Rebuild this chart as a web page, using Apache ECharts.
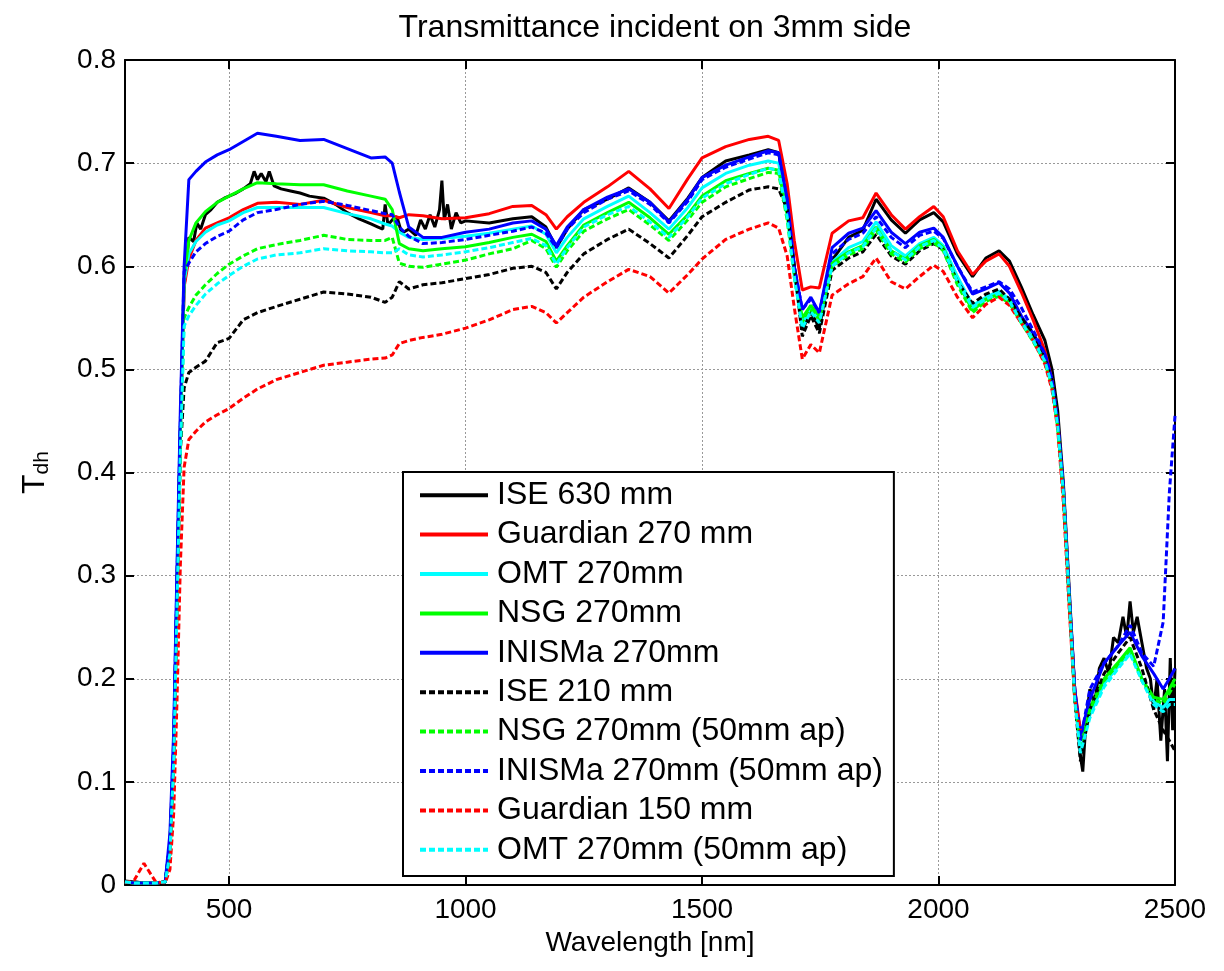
<!DOCTYPE html>
<html>
<head>
<meta charset="utf-8">
<title>Transmittance incident on 3mm side</title>
<script src="https://cdn.jsdelivr.net/npm/echarts@6/dist/echarts.min.js"></script>
<style>
  html, body { margin: 0; padding: 0; background: #fff; }
  #chart { width: 1224px; height: 971px; }
</style>
</head>
<body>
<div id="chart"></div>
<script>
// wavelength grid [nm], shared by the smoother curves
const wl = [280,300,320,345,365,375,383,390,397,405,
  415,430,450,475,500,530,560,600,650,700,
  750,800,830,845,860,880,910,950,1000,1050,
  1100,1140,1170,1192,1215,1250,1300,1345,1390,1430,
  1470,1500,1550,1600,1640,1662,1680,1695,1712,1730,
  1748,1775,1810,1840,1868,1900,1930,1960,1990,2010,
  2040,2072,2100,2128,2150,2175,2200,2225,2240,2252,
  2264,2276,2288,2300,2320,2350,2380,2405,2430,2455,
  2475,2488,2500]

// ISE 630 mm is noisy, so it has its own denser grid
const wlIse630 = [280,300,320,345,365,375,383,390,397,405,
  415,425,432,440,450,462,475,490,500,515,
  530,545,553,560,568,578,585,595,610,630,
  650,670,700,725,750,775,800,815,825,830,
  836,845,855,865,880,895,905,915,925,935,
  945,950,955,962,970,980,990,1000,1050,1100,
  1140,1170,1192,1215,1250,1300,1345,1390,1430,1470,
  1500,1550,1600,1640,1662,1680,1695,1712,1730,1748,
  1775,1810,1840,1868,1900,1930,1960,1990,2010,2040,
  2072,2100,2128,2150,2175,2200,2225,2240,2252,2264,
  2276,2288,2300,2305,2312,2320,2330,2340,2350,2360,
  2370,2380,2390,2398,2405,2412,2420,2430,2440,2448,
  2455,2462,2470,2478,2484,2490,2495,2500]

const ise630 = [.004,.003,.002,.002,.003,.04,.13,.29,.44,.58,
  .628,.624,.642,.636,.65,.655,.662,.666,.668,.671,
  .675,.68,.692,.684,.69,.682,.692,.678,.675,.673,
  .671,.668,.666,.66,.652,.646,.641,.638,.636,.66,
  .64,.645,.648,.632,.636,.63,.645,.636,.65,.638,
  .655,.683,.645,.66,.636,.652,.642,.644,.642,.646,
  .648,.638,.618,.636,.655,.665,.676,.662,.644,.666,
  .686,.702,.708,.713,.71,.66,.6,.538,.556,.54,
  .606,.628,.635,.665,.645,.632,.645,.652,.643,.612,
  .59,.608,.615,.605,.58,.553,.528,.5,.46,.39,
  .29,.19,.125,.11,.16,.19,.175,.21,.22,.205,
  .24,.235,.26,.24,.275,.245,.26,.235,.21,.2,
  .17,.2,.14,.19,.12,.22,.15,.21]

const guardian270 = [.003,.002,.002,.002,.003,.04,.13,.29,.44,.58,
  .607,.625,.637,.642,.647,.655,.661,.662,.66,.664,
  .657,.652,.649,.649,.647,.65,.649,.646,.647,.651,
  .658,.659,.65,.636,.648,.662,.677,.692,.675,.656,
  .685,.705,.716,.723,.726,.722,.68,.625,.577,.58,
  .579,.632,.644,.647,.671,.65,.636,.648,.658,.648,
  .615,.592,.605,.612,.6,.575,.548,.518,.49,.45,
  .38,.28,.19,.15,null,null,null,null,null,null,
  null,null,null]

const omt270 = [.003,.002,.002,.002,.003,.04,.13,.29,.44,.585,
  .612,.624,.633,.64,.644,.652,.657,.657,.657,.657,
  .651,.646,.641,.639,.633,.628,.626,.627,.629,.632,
  .636,.639,.631,.613,.628,.646,.658,.668,.652,.636,
  .657,.676,.69,.698,.702,.7,.655,.59,.545,.56,
  .548,.604,.618,.624,.643,.62,.61,.622,.628,.62,
  .59,.562,.57,.576,.568,.548,.53,.51,.485,.445,
  .38,.28,.18,.13,.165,.195,.212,.226,.2,.178,
  .172,.18,.18]

const nsg270 = [.003,.002,.002,.002,.003,.04,.13,.29,.44,.59,
  .625,.642,.653,.662,.668,.675,.681,.68,.679,.679,
  .673,.668,.665,.655,.622,.617,.615,.617,.619,.623,
  .628,.631,.624,.605,.62,.64,.652,.662,.647,.631,
  .65,.668,.683,.69,.695,.693,.65,.595,.55,.562,
  .552,.603,.614,.62,.638,.615,.607,.62,.626,.618,
  .585,.557,.568,.573,.566,.547,.528,.508,.484,.445,
  .38,.28,.185,.14,.172,.2,.216,.23,.2,.182,
  .18,.19,.2]

const inisma270 = [.003,.002,.002,.002,.003,.05,.15,.31,.46,.6,
  .684,.692,.701,.708,.713,.721,.729,.726,.722,.723,
  .714,.705,.706,.7,.672,.638,.628,.628,.633,.636,
  .642,.644,.636,.62,.638,.655,.667,.675,.662,.643,
  .665,.686,.698,.706,.712,.71,.665,.6,.558,.57,
  .555,.618,.632,.637,.654,.633,.622,.633,.637,.628,
  .6,.573,.578,.584,.574,.552,.535,.515,.49,.45,
  .385,.285,.19,.145,.18,.215,.232,.245,.222,.205,
  .19,.2,.21]

const ise210 = [.003,.003,.002,.002,.003,.03,.12,.27,.42,.482,
  .497,.502,.508,.526,.53,.548,.555,.561,.568,.575,
  .573,.57,.565,.57,.585,.578,.582,.584,.588,.592,
  .598,.6,.594,.578,.594,.612,.626,.636,.622,.608,
  .63,.648,.662,.674,.677,.675,.655,.6,.532,.552,
  .535,.596,.608,.614,.631,.61,.602,.615,.622,.616,
  .585,.564,.573,.578,.568,.55,.535,.51,.49,.45,
  .38,.28,.18,.12,.17,.205,.225,.24,.21,.17,
  .15,.14,.13]

const nsg50 = [.003,.002,.002,.002,.003,.03,.12,.27,.42,.55,
  .56,.572,.582,.593,.602,.61,.617,.621,.625,.63,
  .626,.625,.625,.628,.603,.6,.599,.602,.606,.612,
  .617,.625,.617,.599,.615,.634,.646,.655,.64,.625,
  .645,.662,.677,.685,.691,.69,.645,.59,.545,.558,
  .548,.6,.611,.617,.635,.612,.604,.617,.623,.615,
  .582,.555,.566,.571,.564,.545,.527,.507,.483,.445,
  .38,.28,.182,.135,.17,.198,.214,.228,.198,.18,
  .176,.186,.195]

const inisma50 = [.003,.002,.002,.002,.003,.04,.14,.3,.45,.595,
  .603,.614,.622,.629,.634,.645,.652,.655,.66,.663,
  .659,.654,.651,.65,.638,.629,.622,.623,.626,.63,
  .634,.638,.632,.618,.636,.652,.665,.673,.66,.642,
  .663,.684,.696,.704,.71,.708,.665,.6,.558,.568,
  .555,.612,.626,.632,.648,.628,.618,.63,.634,.627,
  .6,.575,.58,.585,.578,.56,.538,.515,.49,.45,
  .385,.285,.19,.14,.19,.215,.232,.252,.225,.212,
  .255,.38,.455]

const guardian150 = [.002,.005,.021,.003,.002,.015,.07,.18,.31,.405,
  .432,.44,.449,.456,.462,.472,.481,.49,.497,.504,
  .507,.51,.511,.514,.525,.528,.531,.534,.54,.548,
  .558,.561,.555,.545,.555,.57,.585,.597,.59,.574,
  .592,.607,.626,.636,.642,.637,.61,.56,.51,.524,
  .516,.572,.583,.59,.608,.585,.578,.59,.601,.595,
  .57,.55,.563,.57,.562,.545,.528,.505,.48,.442,
  .37,.27,.18,.15,null,null,null,null,null,null,
  null,null,null]

const omt50 = [.003,.002,.002,.002,.003,.03,.12,.27,.42,.542,
  .552,.562,.573,.583,.591,.6,.607,.611,.613,.617,
  .615,.614,.613,.613,.617,.611,.609,.611,.614,.618,
  .623,.627,.62,.602,.618,.638,.65,.658,.643,.628,
  .648,.666,.68,.689,.695,.693,.648,.59,.54,.556,
  .545,.6,.613,.619,.637,.615,.606,.619,.625,.617,
  .585,.56,.568,.574,.566,.546,.528,.508,.484,.445,
  .38,.28,.18,.128,.162,.192,.21,.224,.198,.175,
  .168,.175,.175]

const xTicks = [500, 1000, 1500, 2000, 2500]

const font = "'Liberation Sans', Arial, Helvetica, sans-serif"

const mk = (name, xs, vals, color, dotted) => ({
  name: name,
  type: 'line',
  data: xs.map((x, i) => [x, vals[i]]).filter(p => p[1] !== null),
  symbol: 'none',
  showSymbol: false,
  itemStyle: { color: color },
  lineStyle: { color: color, width: 3, type: dotted ? [6, 3] : 'solid' }
})

const series = [
  mk('ISE 630 mm', wlIse630, ise630, '#000000', false),
  mk('Guardian 270 mm', wl, guardian270, '#ff0000', false),
  mk('OMT 270mm', wl, omt270, '#00ffff', false),
  mk('NSG 270mm', wl, nsg270, '#00ff00', false),
  mk('INISMa 270mm', wl, inisma270, '#0000ff', false),
  mk('ISE 210 mm', wl, ise210, '#000000', true),
  mk('NSG 270mm (50mm ap)', wl, nsg50, '#00ff00', true),
  mk('INISMa 270mm (50mm ap)', wl, inisma50, '#0000ff', true),
  mk('Guardian 150 mm', wl, guardian150, '#ff0000', true),
  mk('OMT 270mm (50mm ap)', wl, omt50, '#00ffff', true)
]

const frame = { show: true, onZero: false, lineStyle: { color: '#000', width: 2 } }
const ticks = { show: true, inside: true, length: 9, lineStyle: { color: '#000', width: 2 } }
const grid = { show: true, lineStyle: { color: '#999', width: 1, type: [2, 2] } }

let chart = echarts.init(document.getElementById('chart'))
chart.setOption({
  animation: false,
  backgroundColor: '#fff',
  textStyle: { fontFamily: font },
  title: {
    text: 'Transmittance incident on 3mm side',
    left: 650,
    top: 7,
    textAlign: 'center',
    textStyle: { fontSize: 32, fontWeight: 'normal', color: '#000', fontFamily: font }
  },
  grid: { left: 125, right: 49, top: 60, bottom: 86 },
  xAxis: [
    {
      type: 'value', min: 280, max: 2500, position: 'bottom',
      name: 'Wavelength [nm]', nameLocation: 'middle', nameGap: 44,
      nameTextStyle: { fontSize: 28, color: '#000', fontFamily: font },
      axisLine: frame,
      axisTick: Object.assign({ customValues: xTicks }, ticks),
      axisLabel: {
        customValues: xTicks, fontSize: 28, color: '#000', margin: 11, fontFamily: font,
        formatter: v => String(v)
      },
      splitLine: grid
    },
    {
      type: 'value', min: 280, max: 2500, position: 'top',
      axisLine: frame,
      axisTick: Object.assign({ customValues: xTicks }, ticks),
      axisLabel: { show: false },
      splitLine: { show: false }
    }
  ],
  yAxis: [
    {
      type: 'value', min: 0, max: 0.8, interval: 0.1, position: 'left',
      name: '{t|T}{s|dh}', nameLocation: 'middle', nameGap: 72, nameRotate: 90,
      nameTextStyle: {
        color: '#000',
        rich: {
          t: { fontSize: 32, color: '#000', fontFamily: font },
          s: { fontSize: 21, color: '#000', fontFamily: font, padding: [14, 0, 0, 0] }
        }
      },
      axisLine: frame,
      axisTick: ticks,
      axisLabel: {
        fontSize: 28, color: '#000', margin: 9, fontFamily: font,
        formatter: v => String(Math.round(v * 10) / 10)
      },
      splitLine: grid
    },
    {
      type: 'value', min: 0, max: 0.8, interval: 0.1, position: 'right',
      axisLine: frame,
      axisTick: ticks,
      axisLabel: { show: false },
      splitLine: { show: false }
    }
  ],
  legend: {
    orient: 'vertical',
    left: 403,
    top: 472,
    backgroundColor: '#fff',
    borderColor: '#000',
    borderWidth: 2,
    borderRadius: 0,
    padding: [6, 11, 9, 15],
    itemWidth: 68,
    itemHeight: 14,
    itemGap: 5,
    itemStyle: { opacity: 0 },
    lineStyle: { width: 4 },
    textStyle: { fontSize: 32, color: '#000', lineHeight: 34.4, fontFamily: font, padding: [0, 0, 0, 4] },
    data: series.map(s => s.name)
  },
  series: series
})
</script>
</body>
</html>
